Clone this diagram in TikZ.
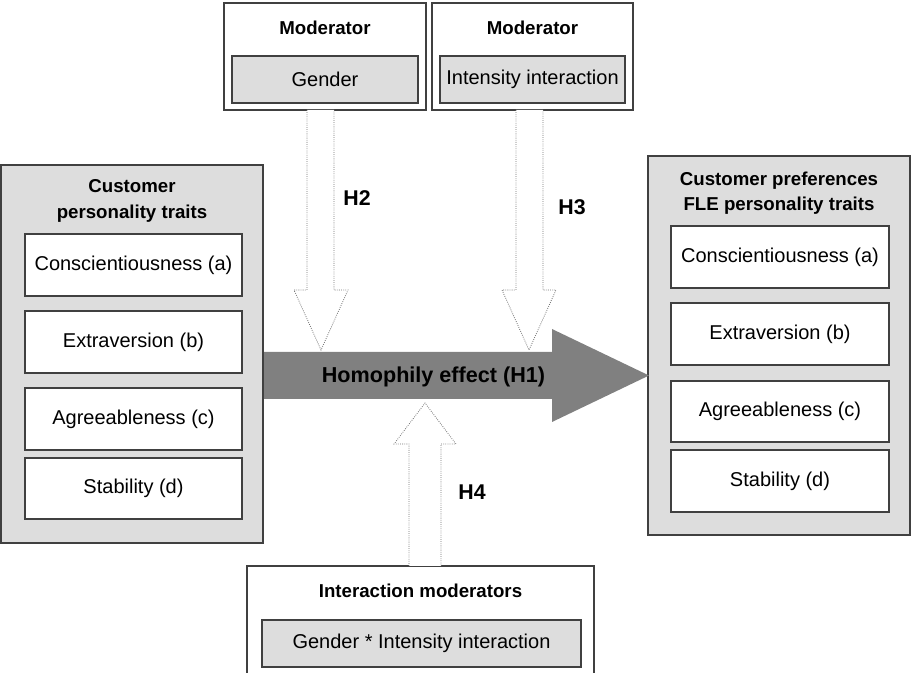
\documentclass[tikz,border=0pt]{standalone}
\usepackage{fontspec}
\setmainfont{Liberation Sans}
\definecolor{boxgray}{HTML}{DDDDDD}
\definecolor{linegray}{HTML}{404040}
\definecolor{arrowgray}{HTML}{808080}
\definecolor{dotgray}{HTML}{707070}
\newcommand\mybox[7]{\node[#6, minimum width={(#4-#2)*0.75pt}, minimum height={(#5-#3)*0.75pt}] (#1) at ({(#2+#4)/2},{(#3+#5)/2}) {#7};}
\tikzset{
  outerbox/.style={draw=linegray, line width=1.1pt, inner sep=0pt, outer sep=0pt},
  grayouter/.style={outerbox, fill=boxgray},
  whiteouter/.style={outerbox, fill=white},
  itembox/.style={draw=linegray, line width=0.9pt, fill=white, inner sep=0pt, outer sep=0pt, font=\fontsize{15}{18}\selectfont},
  grayitem/.style={itembox, fill=boxgray},
  titletext/.style={align=center, font=\fontsize{14}{19}\selectfont\bfseries, inner sep=0pt},
  hlabel/.style={font=\fontsize{16}{19}\selectfont\bfseries, inner sep=0pt},
  hollowarrow/.style={draw=dotgray, densely dotted, line width=0.6pt, fill=white},
}
\begin{document}
\begin{tikzpicture}[x=0.75pt, y=-0.75pt]
\useasboundingbox (0,0) rectangle (911,673);
\clip (0,0) rectangle (911,673);
% moderator boxes
\mybox{modA}{224}{3}{426}{110}{whiteouter}{}
\mybox{modAin}{232}{56}{418}{103}{grayitem}{Gender}
\node[titletext] (modAt) at (325,28) {Moderator};
\mybox{modB}{432}{3}{633}{110}{whiteouter}{}
\mybox{modBin}{440}{56}{625}{103}{grayitem}{Intensity interaction}
\node[titletext] (modBt) at (532.5,28) {Moderator};
% left box
\mybox{left}{1}{165}{263}{543}{grayouter}{}
\node[titletext] (leftt) at (132,201) {Customer\\personality traits};
\mybox{la}{25}{234}{242}{296}{itembox}{Conscientiousness (a)}
\mybox{lb}{25}{311}{242}{373}{itembox}{Extraversion (b)}
\mybox{lc}{25}{388}{242}{450}{itembox}{Agreeableness (c)}
\mybox{ld}{25}{458}{242}{519}{itembox}{Stability (d)}
% right box
\mybox{right}{648}{156}{910}{535}{grayouter}{}
\node[titletext] (rightt) at (779,193.5) {Customer preferences\\FLE personality traits};
\mybox{ra}{671}{226}{889}{288}{itembox}{Conscientiousness (a)}
\mybox{rb}{671}{303}{889}{365}{itembox}{Extraversion (b)}
\mybox{rc}{671}{381}{889}{442}{itembox}{Agreeableness (c)}
\mybox{rd}{671}{450}{889}{512}{itembox}{Stability (d)}
% bottom box
\mybox{bottom}{247}{566}{594}{690}{whiteouter}{}
\node[titletext] (bottomt) at (420.5,591) {Interaction moderators};
\mybox{bottomin}{262}{620}{581}{667}{grayitem}{Gender * Intensity interaction}
% big arrow
\fill[arrowgray] (264,352) -- (552,352) -- (552,329) -- (649,375.5) -- (552,422) -- (552,399) -- (264,399) -- cycle;
\node[font=\fontsize{16.2}{19}\selectfont\bfseries, inner sep=0pt] (h1) at (433.5,377) {Homophily effect (H1)};
% hollow arrows
\draw[hollowarrow] (307,110) -- (307,290) -- (294,290) -- (321,350) -- (348,290) -- (334,290) -- (334,110);
\draw[hollowarrow] (516,110) -- (516,290) -- (502,290) -- (529,350) -- (556,290) -- (543,290) -- (543,110);
\draw[hollowarrow] (409,566) -- (409,444) -- (394,444) -- (425,403) -- (456,444) -- (441,444) -- (441,566);
\node[hlabel] (h2) at (357,198) {H2};
\node[hlabel] (h3) at (572,207) {H3};
\node[hlabel] (h4) at (472,492) {H4};
\end{tikzpicture}
\end{document}
